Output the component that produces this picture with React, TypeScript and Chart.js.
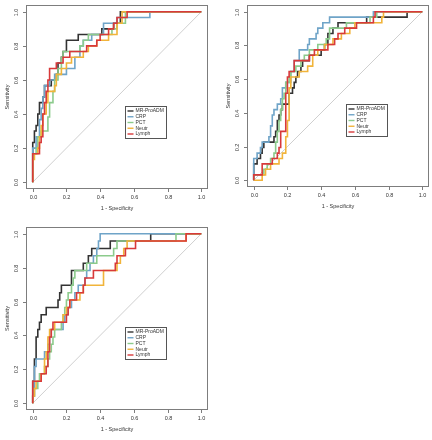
import React, { useEffect, useRef } from "react";
import { Chart, registerables } from "chart.js";

Chart.register(...registerables);

type Pt = [number, number];

// ---- series names / colours / ticks ----
const seriesNames = ["MR-ProADM", "CRP", "PCT", "Neutr", "Lymph"];
const seriesColors = ["#333333", "#6fa4c8", "#8ccb8c", "#f1b43a", "#d8393a"];
const tickValues = [0, 0.2, 0.4, 0.6, 0.8, 1.0];
const xTitle = "1 - Specificity";
const yTitle = "Sensitivity";

// ---- panel 1 (1 - specificity, sensitivity) ----
const p1MrProAdm: Pt[] = [[0,0],[0,0.233],[0.01,0.3],[0.02,0.333],[0.03,0.4],[0.04,0.467],[0.06,0.5],[0.07,0.567],[0.11,0.6],[0.14,0.633],[0.15,0.7],[0.17,0.733],[0.18,0.767],[0.2,0.833],[0.27,0.867],[0.41,0.9],[0.48,0.933],[0.52,1],[1,1]];
const p1Crp: Pt[] = [[0,0],[0,0.2],[0.02,0.267],[0.04,0.367],[0.05,0.433],[0.06,0.5],[0.07,0.567],[0.1,0.6],[0.13,0.633],[0.2,0.667],[0.25,0.733],[0.28,0.8],[0.3,0.833],[0.35,0.867],[0.42,0.933],[0.5,0.967],[0.695,1],[1,1]];
const p1Pct: Pt[] = [[0,0],[0,0.167],[0.02,0.2],[0.03,0.267],[0.05,0.3],[0.09,0.383],[0.1,0.467],[0.12,0.533],[0.13,0.6],[0.15,0.667],[0.17,0.733],[0.18,0.767],[0.28,0.8],[0.3,0.833],[0.33,0.867],[0.47,0.9],[0.5,0.933],[0.55,1],[1,1]];
const p1Neutr: Pt[] = [[0,0],[0,0.133],[0.01,0.167],[0.03,0.2],[0.04,0.267],[0.05,0.333],[0.06,0.4],[0.08,0.467],[0.09,0.533],[0.13,0.567],[0.14,0.633],[0.17,0.667],[0.2,0.7],[0.23,0.733],[0.3,0.767],[0.33,0.8],[0.38,0.833],[0.45,0.867],[0.5,0.933],[0.53,1],[1,1]];
const p1Lymph: Pt[] = [[0,0],[0,0.167],[0.04,0.233],[0.05,0.267],[0.06,0.4],[0.07,0.467],[0.08,0.533],[0.09,0.6],[0.1,0.667],[0.14,0.7],[0.18,0.733],[0.22,0.767],[0.32,0.8],[0.38,0.833],[0.4,0.867],[0.45,0.9],[0.48,0.933],[0.5,0.967],[0.56,1],[1,1]];

// ---- panel 2 ----
const p2MrProAdm: Pt[] = [[0,0],[0,0.097],[0.02,0.129],[0.04,0.161],[0.05,0.194],[0.06,0.226],[0.12,0.258],[0.13,0.29],[0.14,0.355],[0.15,0.387],[0.16,0.419],[0.17,0.452],[0.21,0.516],[0.23,0.548],[0.24,0.581],[0.25,0.613],[0.26,0.645],[0.28,0.677],[0.29,0.71],[0.33,0.742],[0.4,0.774],[0.42,0.806],[0.44,0.871],[0.47,0.903],[0.5,0.935],[0.67,0.968],[0.91,1],[1,1]];
const p2Crp: Pt[] = [[0,0],[0,0.129],[0.02,0.161],[0.04,0.194],[0.05,0.226],[0.09,0.258],[0.1,0.323],[0.11,0.387],[0.12,0.419],[0.14,0.452],[0.16,0.484],[0.17,0.548],[0.19,0.581],[0.22,0.645],[0.24,0.71],[0.27,0.774],[0.32,0.806],[0.33,0.839],[0.37,0.871],[0.38,0.903],[0.41,0.935],[0.45,0.968],[0.71,1],[1,1]];
const p2Pct: Pt[] = [[0,0],[0,0.032],[0.06,0.065],[0.08,0.097],[0.1,0.129],[0.12,0.161],[0.13,0.226],[0.14,0.29],[0.15,0.355],[0.16,0.419],[0.17,0.484],[0.18,0.516],[0.19,0.581],[0.21,0.613],[0.22,0.645],[0.25,0.677],[0.28,0.71],[0.3,0.742],[0.33,0.774],[0.38,0.806],[0.43,0.839],[0.45,0.903],[0.55,0.935],[0.69,0.968],[0.73,1],[1,1]];
const p2Neutr: Pt[] = [[0,0],[0.05,0.032],[0.07,0.065],[0.1,0.097],[0.15,0.129],[0.17,0.161],[0.19,0.258],[0.2,0.355],[0.21,0.452],[0.21,0.548],[0.22,0.613],[0.27,0.645],[0.32,0.677],[0.35,0.742],[0.38,0.774],[0.42,0.806],[0.47,0.839],[0.52,0.871],[0.57,0.903],[0.6,0.935],[0.76,0.968],[0.77,1],[1,1]];
const p2Lymph: Pt[] = [[0,0],[0,0.032],[0.05,0.097],[0.11,0.129],[0.14,0.161],[0.15,0.194],[0.16,0.29],[0.19,0.355],[0.19,0.516],[0.2,0.613],[0.21,0.645],[0.24,0.71],[0.33,0.742],[0.36,0.774],[0.44,0.806],[0.48,0.839],[0.5,0.871],[0.54,0.903],[0.61,0.935],[0.71,0.968],[0.72,1],[1,1]];

// ---- panel 3 ----
const p3MrProAdm: Pt[] = [[0,0],[0,0.13],[0.01,0.174],[0.01,0.261],[0.02,0.348],[0.02,0.391],[0.03,0.435],[0.04,0.478],[0.05,0.522],[0.08,0.565],[0.15,0.609],[0.16,0.652],[0.17,0.696],[0.23,0.783],[0.3,0.826],[0.33,0.87],[0.35,0.913],[0.46,0.957],[0.7,1],[1,1]];
const p3Crp: Pt[] = [[0,0],[0,0.043],[0.01,0.217],[0.02,0.261],[0.07,0.304],[0.09,0.348],[0.1,0.391],[0.11,0.435],[0.18,0.478],[0.19,0.522],[0.21,0.565],[0.23,0.609],[0.25,0.652],[0.27,0.696],[0.31,0.739],[0.32,0.783],[0.34,0.826],[0.36,0.87],[0.38,0.913],[0.39,0.957],[0.4,1],[1,1]];
const p3Pct: Pt[] = [[0,0],[0,0.043],[0.01,0.087],[0.03,0.13],[0.04,0.174],[0.07,0.217],[0.09,0.261],[0.1,0.304],[0.11,0.348],[0.12,0.391],[0.13,0.435],[0.17,0.478],[0.18,0.522],[0.19,0.565],[0.2,0.609],[0.21,0.652],[0.23,0.696],[0.24,0.739],[0.25,0.783],[0.32,0.826],[0.38,0.87],[0.48,0.913],[0.5,0.957],[0.85,1],[1,1]];
const p3Neutr: Pt[] = [[0,0],[0,0.043],[0.01,0.087],[0.02,0.13],[0.05,0.174],[0.07,0.261],[0.08,0.304],[0.09,0.391],[0.1,0.435],[0.13,0.478],[0.18,0.522],[0.2,0.565],[0.22,0.609],[0.28,0.652],[0.3,0.696],[0.42,0.739],[0.42,0.783],[0.5,0.826],[0.52,0.87],[0.54,0.913],[0.56,0.957],[0.91,1],[1,1]];
const p3Lymph: Pt[] = [[0,0],[0,0.13],[0.05,0.174],[0.08,0.217],[0.09,0.304],[0.1,0.391],[0.11,0.435],[0.12,0.478],[0.2,0.522],[0.21,0.565],[0.22,0.609],[0.26,0.652],[0.3,0.696],[0.31,0.739],[0.36,0.783],[0.49,0.826],[0.5,0.87],[0.55,0.913],[0.61,0.957],[0.91,1],[1,1]];

const panel1: Pt[][] = [p1MrProAdm, p1Crp, p1Pct, p1Neutr, p1Lymph];
const panel2: Pt[][] = [p2MrProAdm, p2Crp, p2Pct, p2Neutr, p2Lymph];
const panel3: Pt[][] = [p3MrProAdm, p3Crp, p3Pct, p3Neutr, p3Lymph];
const legendAnchor: Pt = [0.55, 0.45];

// ---- layout (pixels) ----
const W = 216;
const H = 220;
const PANELS = [
  { left: 0, top: 0, data: panel1, area: { l: 26, t: 5, r: 208, b: 189 } },
  { left: 216, top: 0, data: panel2, area: { l: 31, t: 5, r: 213, b: 187 } },
  { left: 0, top: 220, data: panel3, area: { l: 26, t: 7, r: 208, b: 190 } },
];
const FONT = "'Liberation Sans', Arial, Helvetica, sans-serif";

function RocPanel({ series, area }: { series: Pt[][]; area: { l: number; t: number; r: number; b: number } }) {
  const ref = useRef<HTMLCanvasElement>(null);
  useEffect(() => {
    const decor = {
      id: "rocDecor",
      afterDraw(chart: any) {
        const { ctx, chartArea } = chart;
        const { left, right, top, bottom } = chartArea;
        const xs = chart.scales.x;
        const ys = chart.scales.y;
        ctx.save();
        // box
        ctx.strokeStyle = "#7d7d7d";
        ctx.lineWidth = 1;
        ctx.strokeRect(left + 0.5, top + 0.5, right - left - 1, bottom - top - 1);
        ctx.fillStyle = "#333";
        ctx.font = `5.5px ${FONT}`;
        ctx.textAlign = "center";
        ctx.textBaseline = "middle";
        // x ticks
        tickValues.forEach((v) => {
          const px = Math.round(xs.getPixelForValue(v)) + 0.5;
          ctx.beginPath();
          ctx.moveTo(px, bottom);
          ctx.lineTo(px, bottom + 3);
          ctx.stroke();
          ctx.fillText(v.toFixed(1), px, bottom + 8);
        });
        // y ticks
        tickValues.forEach((v) => {
          const py = Math.round(ys.getPixelForValue(v)) + 0.5;
          ctx.beginPath();
          ctx.moveTo(left, py);
          ctx.lineTo(left - 3, py);
          ctx.stroke();
          ctx.save();
          ctx.translate(left - 10, py);
          ctx.rotate(-Math.PI / 2);
          ctx.fillText(v.toFixed(1), 0, 0);
          ctx.restore();
        });
        // titles
        ctx.fillText(xTitle, (left + right) / 2, bottom + 19);
        ctx.save();
        ctx.translate(left - 19, (top + bottom) / 2);
        ctx.rotate(-Math.PI / 2);
        ctx.fillText(yTitle, 0, 0);
        ctx.restore();
        // legend
        const lx = Math.round(xs.getPixelForValue(legendAnchor[0])) + 0.5;
        const ly = Math.round(ys.getPixelForValue(legendAnchor[1])) + 0.5;
        const lw = 41;
        const lh = 32;
        ctx.fillStyle = "#fff";
        ctx.fillRect(lx, ly, lw, lh);
        ctx.strokeStyle = "#555";
        ctx.strokeRect(lx, ly, lw, lh);
        ctx.font = `5px ${FONT}`;
        ctx.textAlign = "left";
        seriesNames.forEach((name, i) => {
          const ry = ly + 4.5 + i * 5.75;
          ctx.strokeStyle = seriesColors[i];
          ctx.lineWidth = 1.4;
          ctx.beginPath();
          ctx.moveTo(lx + 2, ry);
          ctx.lineTo(lx + 8, ry);
          ctx.stroke();
          ctx.fillStyle = "#333";
          ctx.fillText(name, lx + 10, ry);
        });
        ctx.restore();
      },
    };

    const chart = new Chart(ref.current as HTMLCanvasElement, {
      type: "line",
      data: {
        datasets: [
          {
            label: "reference",
            data: [{ x: 0, y: 0 }, { x: 1, y: 1 }],
            borderColor: "#cfcfcf",
            borderWidth: 1,
            pointRadius: 0,
            order: 10,
          } as any,
          ...series.map((pts, i) => ({
            label: seriesNames[i],
            data: pts.map(([x, y]) => ({ x, y })),
            borderColor: seriesColors[i],
            borderWidth: 1.6,
            pointRadius: 0,
            stepped: "before" as const,
            fill: false,
            order: 5 - i,
          })),
        ],
      },
      options: {
        animation: false,
        responsive: false,
        events: [],
        layout: { padding: { top: area.t, right: W - area.r, left: 0, bottom: 0 } },
        plugins: { legend: { display: false }, tooltip: { enabled: false } },
        scales: {
          x: {
            type: "linear",
            min: -0.04,
            max: 1.04,
            ticks: { display: false },
            grid: { display: false },
            border: { display: false },
            afterBuildTicks: (s: any) => {
              s.ticks = tickValues.map((v) => ({ value: v }));
            },
            afterFit: (s: any) => {
              s.height = H - area.b;
            },
          },
          y: {
            type: "linear",
            min: -0.04,
            max: 1.04,
            ticks: { display: false },
            grid: { display: false },
            border: { display: false },
            afterBuildTicks: (s: any) => {
              s.ticks = tickValues.map((v) => ({ value: v }));
            },
            afterFit: (s: any) => {
              s.width = area.l;
            },
          },
        },
      },
      plugins: [decor],
    } as any);
    return () => chart.destroy();
  }, [series, area]);
  return <canvas ref={ref} width={W} height={H} style={{ display: "block" }} />;
}

export default function App() {
  return (
    <div style={{ position: "absolute", left: 0, top: 0, width: 432, height: 440, background: "#fff" }}>
      {PANELS.map((p, i) => (
        <div key={i} style={{ position: "absolute", left: p.left, top: p.top, width: W, height: H }}>
          <RocPanel series={p.data} area={p.area} />
        </div>
      ))}
    </div>
  );
}
